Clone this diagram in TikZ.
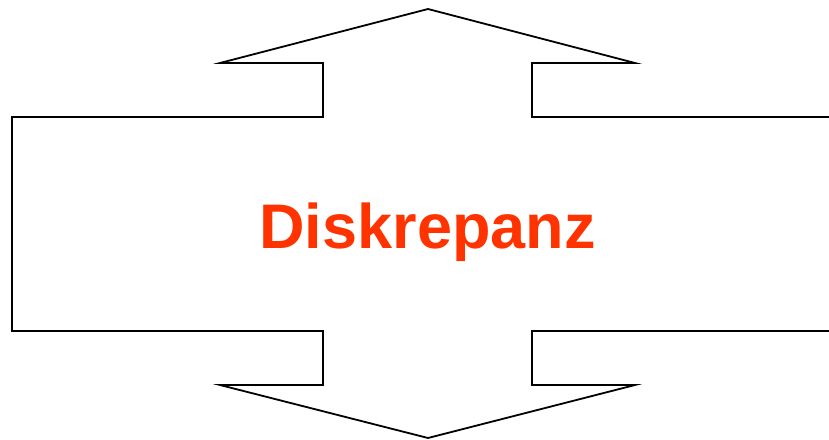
\documentclass[tikz,border=0pt]{standalone}
\usepackage{fontspec}
\setmainfont{Liberation Sans}
\definecolor{discred}{HTML}{FF3300}
\begin{document}
\begin{tikzpicture}[x=1pt,y=-1pt,
  outline/.style={draw=black,line width=1.8pt,line join=miter},
  label/.style={text=discred,font=\fontsize{63}{75}\selectfont\bfseries,inner sep=0pt,anchor=base}]
\useasboundingbox (0,0) rectangle (829,439);
\coordinate (tr) at (829,117);
\coordinate (br) at (829,331);
\draw[outline] (tr) -- (532,117) -- (532,63) -- (635,63) -- (428,9) -- (220,63) -- (323,63) -- (323,117)
  -- (12,117) -- (12,331) -- (323,331) -- (323,385) -- (220,385) -- (428,438) -- (635,385) -- (532,385) -- (532,331) -- (br);
\node[label] (t) at (427.5,248) {Diskrepanz};
\end{tikzpicture}
\end{document}
